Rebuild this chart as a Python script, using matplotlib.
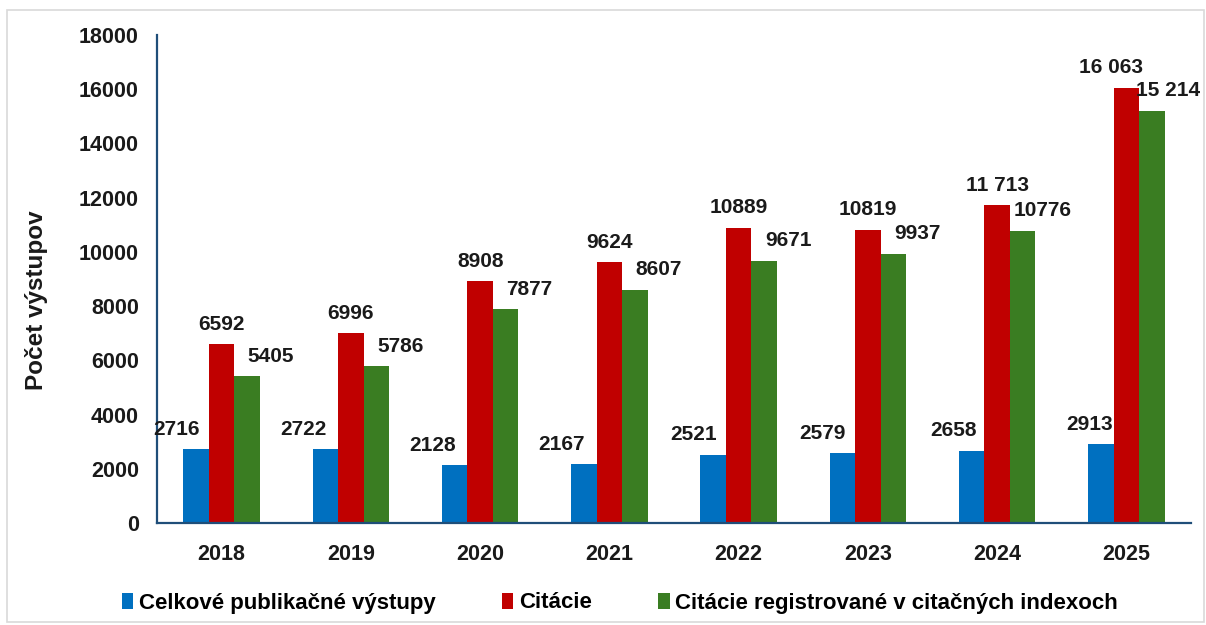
import matplotlib
matplotlib.use("Agg")
import matplotlib.pyplot as plt
import matplotlib.patches as mpatches
import numpy as np

plt.rcParams['font.family'] = ['Liberation Sans', 'DejaVu Sans']

years = ['2018', '2019', '2020', '2021', '2022', '2023', '2024', '2025']
vystupy = [2716, 2722, 2128, 2167, 2521, 2579, 2658, 2913]
citacie = [6592, 6996, 8908, 9624, 10889, 10819, 11713, 16063]
citacie_reg = [5405, 5786, 7877, 8607, 9671, 9937, 10776, 15214]

lab_vystupy = ['2716', '2722', '2128', '2167', '2521', '2579', '2658', '2913']
lab_citacie = ['6592', '6996', '8908', '9624', '10889', '10819', '11 713', '16 063']
lab_citacie_reg = ['5405', '5786', '7877', '8607', '9671', '9937', '10776', '15 214']

series_names = ['Celkové publikačné výstupy', 'Citácie',
                'Citácie registrované v citačných indexoch']
colors = ['#0070C0', '#C00000', '#3A7D22']

fig = plt.figure(figsize=(12.06, 6.25), dpi=100)
ax = fig.add_axes([157/1206, 1-523/625, (1191-157)/1206, (523-35)/625])

x = np.arange(len(years))
w = 0.197
# label horizontal offsets in pixels (style only)
dx_blue = [-20, -22, -22, -22, -20, -20, -18, -11]
dx_red = [0, 0, 0, 0, 0, 0, 0, -15]
dx_green = [24, 24, 24, 24, 24, 24, 20, 16]
groups = [(vystupy, lab_vystupy, -w, dx_blue), (citacie, lab_citacie, 0, dx_red),
          (citacie_reg, lab_citacie_reg, w, dx_green)]
for i, (vals, labs, off, dxs) in enumerate(groups):
    ax.bar(x + off, vals, width=w, color=colors[i], label=series_names[i])
    for xi, v, l, dx in zip(x, vals, labs, dxs):
        ax.annotate(l, (xi + off, v), xytext=(dx, 20), textcoords='offset pixels',
                    ha='center', va='center', fontsize=15, fontweight='bold',
                    color='#1a1a1a')

ax.set_xlim(-0.5, len(years) - 0.5)
ax.set_ylim(0, 18000)
ax.set_yticks(np.arange(0, 18001, 2000))
ax.set_xticks(x)
ax.set_xticklabels(years)
for sp in ['top', 'right']:
    ax.spines[sp].set_visible(False)
for sp in ['left', 'bottom']:
    ax.spines[sp].set_color('#1F4E79')
    ax.spines[sp].set_linewidth(1.6)
ax.tick_params(axis='both', length=0, labelsize=15.5, labelcolor='#1a1a1a')
ax.tick_params(axis='y', pad=13)
ax.tick_params(axis='x', pad=15)
for t in ax.get_xticklabels() + ax.get_yticklabels():
    t.set_fontweight('bold')
ax.set_ylabel('Počet výstupov', fontsize=17.5, fontweight='bold', color='#1a1a1a')
ax.yaxis.set_label_coords(-0.105, 0.457)

leg = fig.legend(loc='center', bbox_to_anchor=(620/1206, 1-603/625), ncol=3,
                 frameon=False, handlelength=0.5, handleheight=0.7,
                 handletextpad=0.25, columnspacing=3.0,
                 prop={'weight': 'bold', 'size': 16})

fig.patches.append(mpatches.Rectangle((7/1206, 1-622/625), (1204-7)/1206, (622-10)/625,
                                      transform=fig.transFigure, fill=False,
                                      edgecolor='#D9D9D9', linewidth=1.2))

fig.savefig('out.png', dpi=100)
